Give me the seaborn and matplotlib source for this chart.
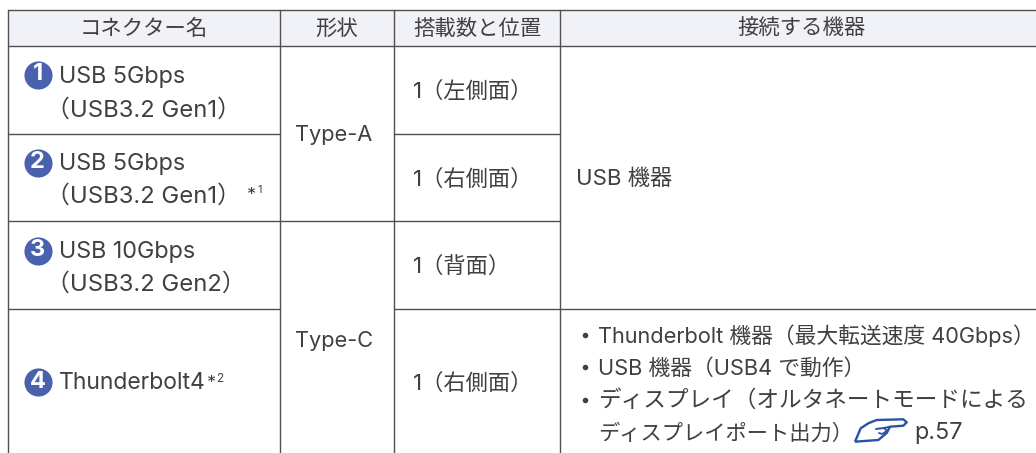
import pandas as pd
import seaborn as sns
import matplotlib.pyplot as plt
from matplotlib.patches import PathPatch, Rectangle
from matplotlib.path import Path

# 表の文字列
header_labels = ['コネクター名', '形状', '搭載数と位置', '接続する機器']
connector_lines = ['USB 5Gbps', '（USB3.2 Gen1）', 'USB 5Gbps', '（USB3.2 Gen1）',
                   'USB 10Gbps', '（USB3.2 Gen2）', 'Thunderbolt4']
badge_numbers = ['1', '2', '3', '4']
shape_labels = ['Type-A', 'Type-C']
position_labels = ['1（左側面）', '1（右側面）', '1（背面）', '1（右側面）']
device_label = 'USB 機器'
device_bullets = ['Thunderbolt 機器（最大転送速度 40Gbps）', 'USB 機器（USB4 で動作）',
                  'ディスプレイ（オルタネートモードによる', 'ディスプレイポート出力）']
page_ref = 'p.57'

TEXT = '#404040'
RULE = '#505050'
BLUE = '#4a62ab'
HAND = '#2653a6'

sns.set_theme(style='white')
plt.rcParams['font.family'] = ['Inter', 'Noto Sans CJK JP', 'DejaVu Sans']

fig, ax = plt.subplots(figsize=(10.36, 4.53), dpi=100)
fig.subplots_adjust(0, 0, 1, 1)
ax.axis('off')

# ヘッダーの背景
ax.add_patch(Rectangle((8, 9.5), 1028, 36.5, color='#f1f2f8', lw=0))

# 罫線
rules = [
    (0, 8, 9.5, 1036, 9.5), (1, 8, 46, 1036, 46),
    (2, 8, 133.5, 280, 133.5), (3, 393.5, 133.5, 560, 133.5),
    (4, 8, 220.5, 560, 220.5), (5, 8, 308.5, 280, 308.5),
    (6, 393.5, 308.5, 1036, 308.5),
    (7, 8, 9.5, 8, 453), (8, 280, 9.5, 280, 453),
    (9, 393.5, 9.5, 393.5, 453), (10, 560, 9.5, 560, 453),
]
rule_rows = []
for rid, x0, y0, x1, y1 in rules:
    rule_rows.append({'rule': rid, 'x': x0, 'y': y0})
    rule_rows.append({'rule': rid, 'x': x1, 'y': y1})
rule_df = pd.DataFrame(rule_rows)
sns.lineplot(data=rule_df, x='x', y='y', units='rule', estimator=None, sort=False,
             color=RULE, linewidth=1.0, ax=ax, legend=False)
ax.set_xlim(0, 1036)
ax.set_ylim(453, 0)

# ヘッダー
header_x = [144, 337, 477, 801]
for label, x in zip(header_labels, header_x):
    ax.text(x, 29, label, ha='center', va='center', fontsize=15.4, color=TEXT)

# コネクター名
connector_pos = [(59, 77), (46, 110.5), (59, 164), (46, 196.5), (59, 252), (46, 284.5), (59, 383)]
connector_sizes = [16.8, 17.2, 16.8, 17.2, 16.8, 17.2, 16.5]
for label, (x, y), size in zip(connector_lines, connector_pos, connector_sizes):
    ax.text(x, y, label, ha='left', va='center', fontsize=size, color=TEXT)
ax.text(247, 195, '*', ha='left', va='center', fontsize=13, color=TEXT)
ax.text(257, 190, '1', ha='left', va='center', fontsize=8, color=TEXT)
ax.text(207, 383, '*', ha='left', va='center', fontsize=13, color=TEXT)
ax.text(216, 379, '2', ha='left', va='center', fontsize=8.5, color=TEXT)

# 丸数字
badge_y = [75, 163, 251, 382]
for num, y in zip(badge_numbers, badge_y):
    ax.scatter([37.5], [y], s=410, color=BLUE, linewidths=0, zorder=3)
    ax.text(37.5, y - 0.5, num, ha='center', va='center', fontsize=17, color='white',
            fontweight='bold', zorder=4)

# 形状
for label, y in zip(shape_labels, [135, 341]):
    ax.text(334, y, label, ha='center', va='center', fontsize=15.7, color=TEXT)

# 搭載数と位置
for label, y in zip(position_labels, [91, 179, 266, 383]):
    ax.text(413, y, label, ha='left', va='center', fontsize=16, color=TEXT)

# 接続する機器
ax.text(576, 179, device_label, ha='left', va='center', fontsize=16, color=TEXT)
bullet_sizes = [15.7, 15.7, 16.3, 15.3]
for label, y, size in zip(device_bullets, [336, 368, 401, 433], bullet_sizes):
    ax.text(598, y, label, ha='left', va='center', fontsize=size, color=TEXT)
ax.scatter([585, 585, 585], [335, 367, 400], s=16, color=TEXT, linewidths=0)
ax.text(914, 433, page_ref, ha='left', va='center', fontsize=16.8, color=TEXT)

# 指さしアイコン
hand = Path([(855, 441.7), (860.7, 428.3), (868.3, 423.3), (876.7, 420), (903.3, 419.3),
             (906.7, 422.3), (903.3, 425.7), (890, 426.7), (886.7, 433), (878.3, 440),
             (855, 441.7)])
ax.add_patch(PathPatch(hand, fill=False, edgecolor=HAND, lw=1.7, zorder=3, joinstyle='round'))
ax.plot([876, 884, 890], [429, 428, 426.7], color=HAND, lw=1.4)
ax.plot([884, 887, 882, 879], [428, 431, 434, 433], color=HAND, lw=1.3)

fig.savefig('out.png', dpi=100)
